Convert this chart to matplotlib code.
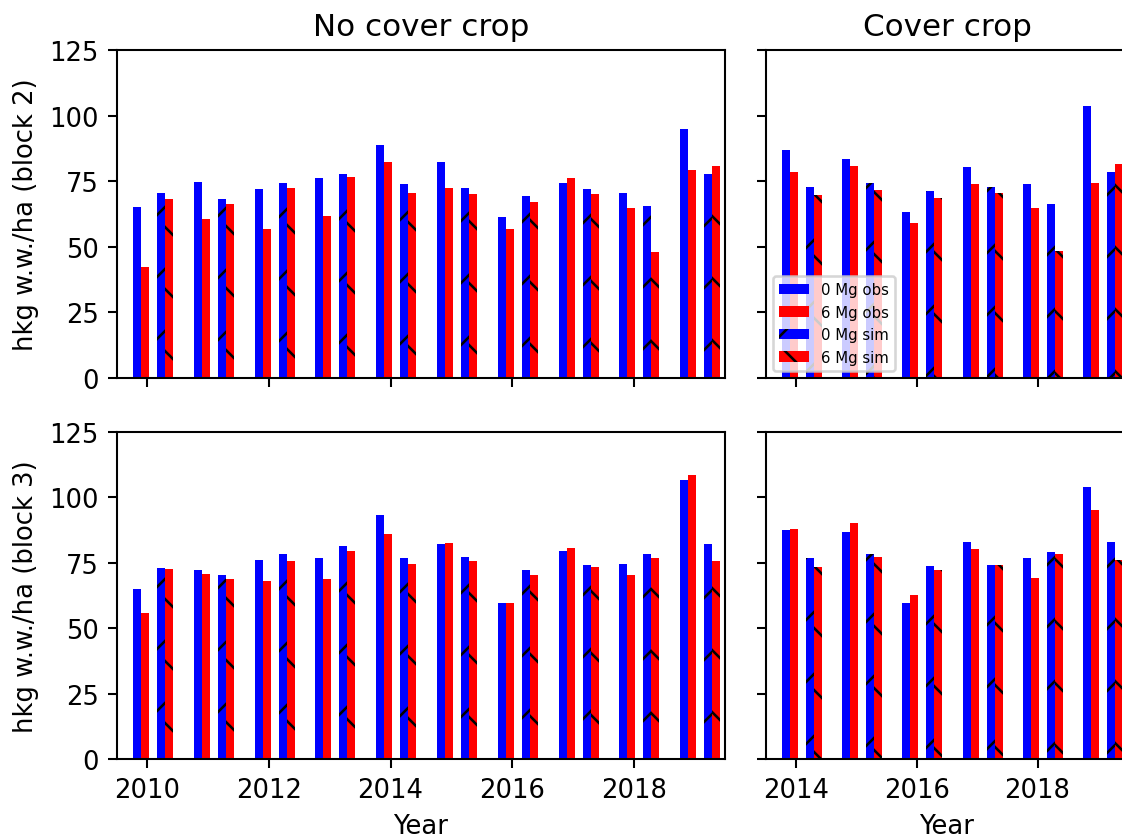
import numpy as np
import matplotlib
matplotlib.use("Agg")
import matplotlib.pyplot as plt

years_nc = np.arange(2010, 2020)
years_cc = np.arange(2014, 2020)

# block 2, no cover crop
b2_nc_obs0 = [65.2, 74.8, 71.9, 76.3, 88.9, 82.2, 61.2, 74.2, 70.6, 94.8]
b2_nc_obs6 = [42.2, 60.5, 56.7, 61.8, 82.3, 72.5, 56.8, 76.1, 64.6, 79.1]
b2_nc_sim0 = [70.6, 68.2, 74.5, 77.9, 74.0, 72.5, 69.2, 72.1, 65.6, 77.6]
b2_nc_sim6 = [68.3, 66.5, 72.5, 76.6, 70.6, 70.0, 66.9, 70.2, 48.2, 80.9]
# block 2, cover crop
b2_cc_obs0 = [86.7, 83.6, 63.2, 80.5, 74.0, 103.6]
b2_cc_obs6 = [78.4, 80.7, 58.9, 74.0, 64.6, 74.2]
b2_cc_sim0 = [72.9, 74.4, 71.2, 72.6, 66.5, 78.6]
b2_cc_sim6 = [69.8, 71.5, 68.5, 70.6, 48.5, 81.5]
# block 3, no cover crop
b3_nc_obs0 = [65.0, 72.2, 76.0, 76.8, 93.1, 82.0, 59.7, 79.7, 74.7, 106.8]
b3_nc_obs6 = [55.8, 70.7, 68.0, 68.8, 86.1, 82.5, 59.5, 80.5, 70.3, 108.7]
b3_nc_sim0 = [73.1, 70.4, 78.4, 81.6, 76.8, 77.4, 72.1, 74.1, 78.2, 82.0]
b3_nc_sim6 = [72.7, 68.8, 75.5, 79.4, 74.7, 75.5, 70.2, 73.3, 77.0, 75.8]
# block 3, cover crop
b3_cc_obs0 = [87.5, 86.8, 59.8, 82.8, 76.8, 103.8]
b3_cc_obs6 = [87.9, 90.4, 62.8, 80.1, 69.1, 95.1]
b3_cc_sim0 = [76.8, 78.2, 73.7, 74.1, 79.3, 82.8]
b3_cc_sim6 = [73.5, 77.4, 72.3, 74.1, 78.2, 76.1]


def bars(ax, x, obs0, obs6, sim0, sim6):
    w = 0.132
    ax.bar(x - 0.172, obs0, w, facecolor='blue', label='0 Mg obs')
    ax.bar(x - 0.040, obs6, w, facecolor='red', label='6 Mg obs')
    ax.bar(x + 0.224, sim0, w, facecolor='blue', hatch='/', label='0 Mg sim')
    ax.bar(x + 0.356, sim6, w, facecolor='red', hatch='\\', label='6 Mg sim')
    ax.set_ylim(0, 125)
    ax.set_yticks([0, 25, 50, 75, 100, 125])


W, H = 1122, 836
dpi = 186
fig = plt.figure(figsize=(W / dpi, H / dpi), dpi=dpi)

ax_tl = fig.add_axes([117 / W, 1 - 379 / H, 608 / W, 328 / H])
ax_tr = fig.add_axes([766 / W, 1 - 379 / H, 362 / W, 328 / H])
ax_bl = fig.add_axes([117 / W, 1 - 760 / H, 608 / W, 327 / H])
ax_br = fig.add_axes([766 / W, 1 - 760 / H, 362 / W, 327 / H])

bars(ax_tl, years_nc, b2_nc_obs0, b2_nc_obs6, b2_nc_sim0, b2_nc_sim6)
bars(ax_tr, years_cc, b2_cc_obs0, b2_cc_obs6, b2_cc_sim0, b2_cc_sim6)
bars(ax_bl, years_nc, b3_nc_obs0, b3_nc_obs6, b3_nc_sim0, b3_nc_sim6)
bars(ax_br, years_cc, b3_cc_obs0, b3_cc_obs6, b3_cc_sim0, b3_cc_sim6)

for ax in (ax_tl, ax_bl):
    ax.set_xlim(2009.5, 2019.5)
    ax.set_xticks([2010, 2012, 2014, 2016, 2018])
for ax in (ax_tr, ax_br):
    ax.set_xlim(2013.5, 2019.5)
    ax.set_xticks([2014, 2016, 2018])
    ax.tick_params(labelleft=False)
for ax in (ax_tl, ax_tr):
    ax.tick_params(labelbottom=False)

ax_tl.set_title('No cover crop')
ax_tr.set_title('Cover crop')
ax_tl.set_ylabel('hkg w.w./ha (block 2)')
ax_bl.set_ylabel('hkg w.w./ha (block 3)')
ax_bl.set_xlabel('Year')
ax_br.set_xlabel('Year')

ax_tr.legend(loc='lower left', fontsize='xx-small')

fig.savefig('out.png', dpi=dpi)
